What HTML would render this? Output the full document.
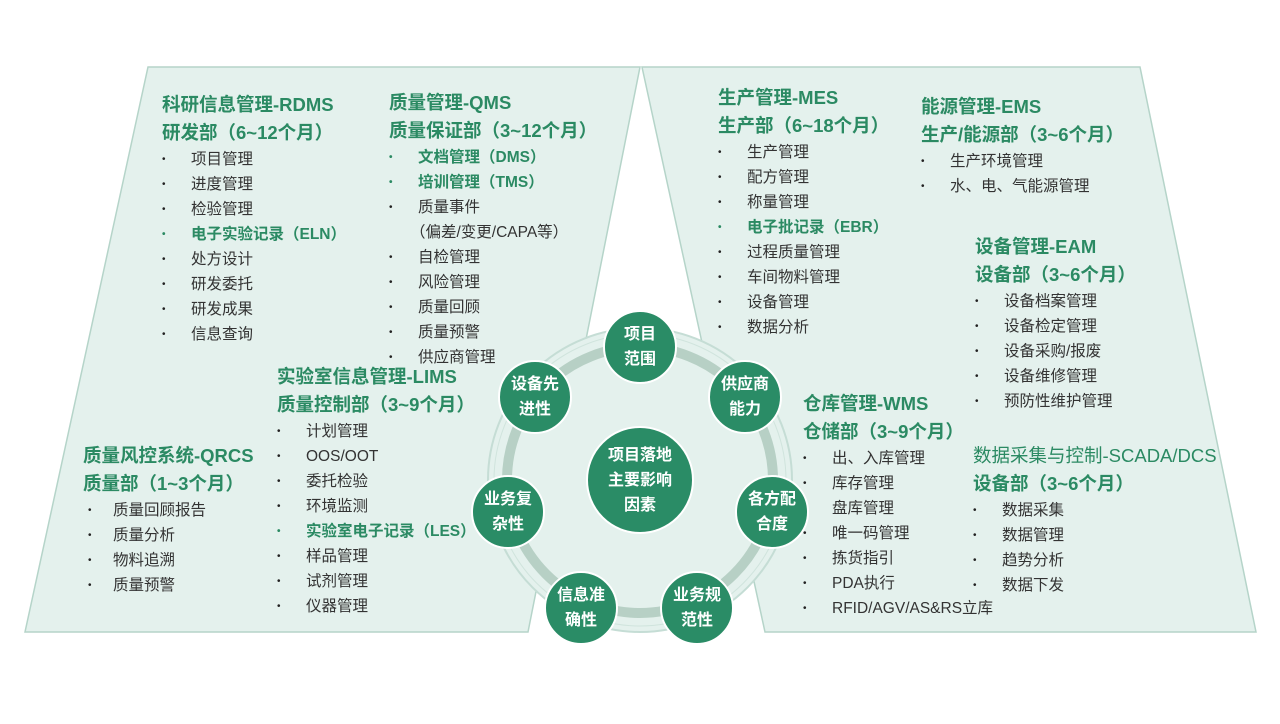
<!DOCTYPE html>
<html><head><meta charset="utf-8"><style>
body{margin:0;width:1280px;height:724px;background:#fff;position:relative;overflow:hidden;font-family:"Liberation Sans","Noto Sans CJK SC",sans-serif}
.b{position:absolute;white-space:nowrap;margin-top:2px}
.h{font-size:18.5px;line-height:28px;color:#2b8a63;font-weight:bold}
.i{font-size:15.5px;line-height:25px;color:#333;position:relative;padding-left:29px}
.i:before{content:"•";position:absolute;left:0;font-size:10px;color:#222}
.g{color:#2b8a63;font-weight:bold}
.g:before{color:#2b8a63}
.n{padding-left:21px}.n:before{content:""}
.c{position:absolute;border-radius:50%;background:#2a8c66;border:2px solid #fff;color:#fff;font-weight:bold;font-size:16px;line-height:25px;text-align:center;display:flex;align-items:center;justify-content:center;box-sizing:border-box}
</style></head><body>
<svg width="1280" height="724" style="position:absolute;left:0;top:0">
<polygon points="148,67 640,67 528,632 25,632" fill="#e4f1ed" stroke="#b5d4c9" stroke-width="1.5"/>
<polygon points="642,67 1140,67 1256,632 765,632" fill="#e4f1ed" stroke="#b5d4c9" stroke-width="1.5"/>
<circle cx="640" cy="480" r="152" fill="#e4f1ed" stroke="#c5ddd5" stroke-width="2"/>
<circle cx="640" cy="480" r="146" fill="none" stroke="#d0e4dd" stroke-width="1"/>
<circle cx="640" cy="480" r="133" fill="none" stroke="#b7d0c5" stroke-width="10"/>
</svg>
<div class="b" style="left:162px;top:89px"><div class="h">科研信息管理-RDMS</div><div class="h">研发部（6~12个月）</div>
<div class="i">项目管理</div><div class="i">进度管理</div><div class="i">检验管理</div><div class="i g">电子实验记录（ELN）</div><div class="i">处方设计</div><div class="i">研发委托</div><div class="i">研发成果</div><div class="i">信息查询</div></div>
<div class="b" style="left:389px;top:87px"><div class="h">质量管理-QMS</div><div class="h">质量保证部（3~12个月）</div>
<div class="i g">文档管理（DMS）</div><div class="i g">培训管理（TMS）</div><div class="i">质量事件</div><div class="i n">（偏差/变更/CAPA等）</div><div class="i">自检管理</div><div class="i">风险管理</div><div class="i">质量回顾</div><div class="i">质量预警</div><div class="i">供应商管理</div></div>
<div class="b" style="left:277px;top:361px"><div class="h">实验室信息管理-LIMS</div><div class="h">质量控制部（3~9个月）</div>
<div class="i">计划管理</div><div class="i">OOS/OOT</div><div class="i">委托检验</div><div class="i">环境监测</div><div class="i g">实验室电子记录（LES）</div><div class="i">样品管理</div><div class="i">试剂管理</div><div class="i">仪器管理</div></div>
<div class="b" style="left:83px;top:440px"><div class="h">质量风控系统-QRCS</div><div class="h">质量部（1~3个月）</div>
<div class="i" style="margin-left:5px;padding-left:25px">质量回顾报告</div><div class="i" style="margin-left:5px;padding-left:25px">质量分析</div><div class="i" style="margin-left:5px;padding-left:25px">物料追溯</div><div class="i" style="margin-left:5px;padding-left:25px">质量预警</div></div>
<div class="b" style="left:718px;top:82px"><div class="h">生产管理-MES</div><div class="h">生产部（6~18个月）</div>
<div class="i">生产管理</div><div class="i">配方管理</div><div class="i">称量管理</div><div class="i g">电子批记录（EBR）</div><div class="i">过程质量管理</div><div class="i">车间物料管理</div><div class="i">设备管理</div><div class="i">数据分析</div></div>
<div class="b" style="left:921px;top:91px"><div class="h">能源管理-EMS</div><div class="h">生产/能源部（3~6个月）</div>
<div class="i">生产环境管理</div><div class="i">水、电、气能源管理</div></div>
<div class="b" style="left:975px;top:231px"><div class="h">设备管理-EAM</div><div class="h">设备部（3~6个月）</div>
<div class="i">设备档案管理</div><div class="i">设备检定管理</div><div class="i">设备采购/报废</div><div class="i">设备维修管理</div><div class="i">预防性维护管理</div></div>
<div class="b" style="left:803px;top:388px"><div class="h">仓库管理-WMS</div><div class="h">仓储部（3~9个月）</div>
<div class="i">出、入库管理</div><div class="i">库存管理</div><div class="i">盘库管理</div><div class="i">唯一码管理</div><div class="i">拣货指引</div><div class="i">PDA执行</div><div class="i">RFID/AGV/AS&amp;RS立库</div></div>
<div class="b" style="left:973px;top:440px"><div class="h" style="font-weight:normal">数据采集与控制-SCADA/DCS</div><div class="h">设备部（3~6个月）</div>
<div class="i">数据采集</div><div class="i">数据管理</div><div class="i">趋势分析</div><div class="i">数据下发</div></div>
<div class="c" style="left:586px;top:426px;width:108px;height:108px;font-size:16px">项目落地<br>主要影响<br>因素</div>
<div class="c" style="left:603px;top:310px;width:74px;height:74px">项目<br>范围</div>
<div class="c" style="left:708px;top:360px;width:74px;height:74px">供应商<br>能力</div>
<div class="c" style="left:735px;top:475px;width:74px;height:74px">各方配<br>合度</div>
<div class="c" style="left:660px;top:571px;width:74px;height:74px">业务规<br>范性</div>
<div class="c" style="left:544px;top:571px;width:74px;height:74px">信息准<br>确性</div>
<div class="c" style="left:471px;top:475px;width:74px;height:74px">业务复<br>杂性</div>
<div class="c" style="left:498px;top:360px;width:74px;height:74px">设备先<br>进性</div>
</body></html>
